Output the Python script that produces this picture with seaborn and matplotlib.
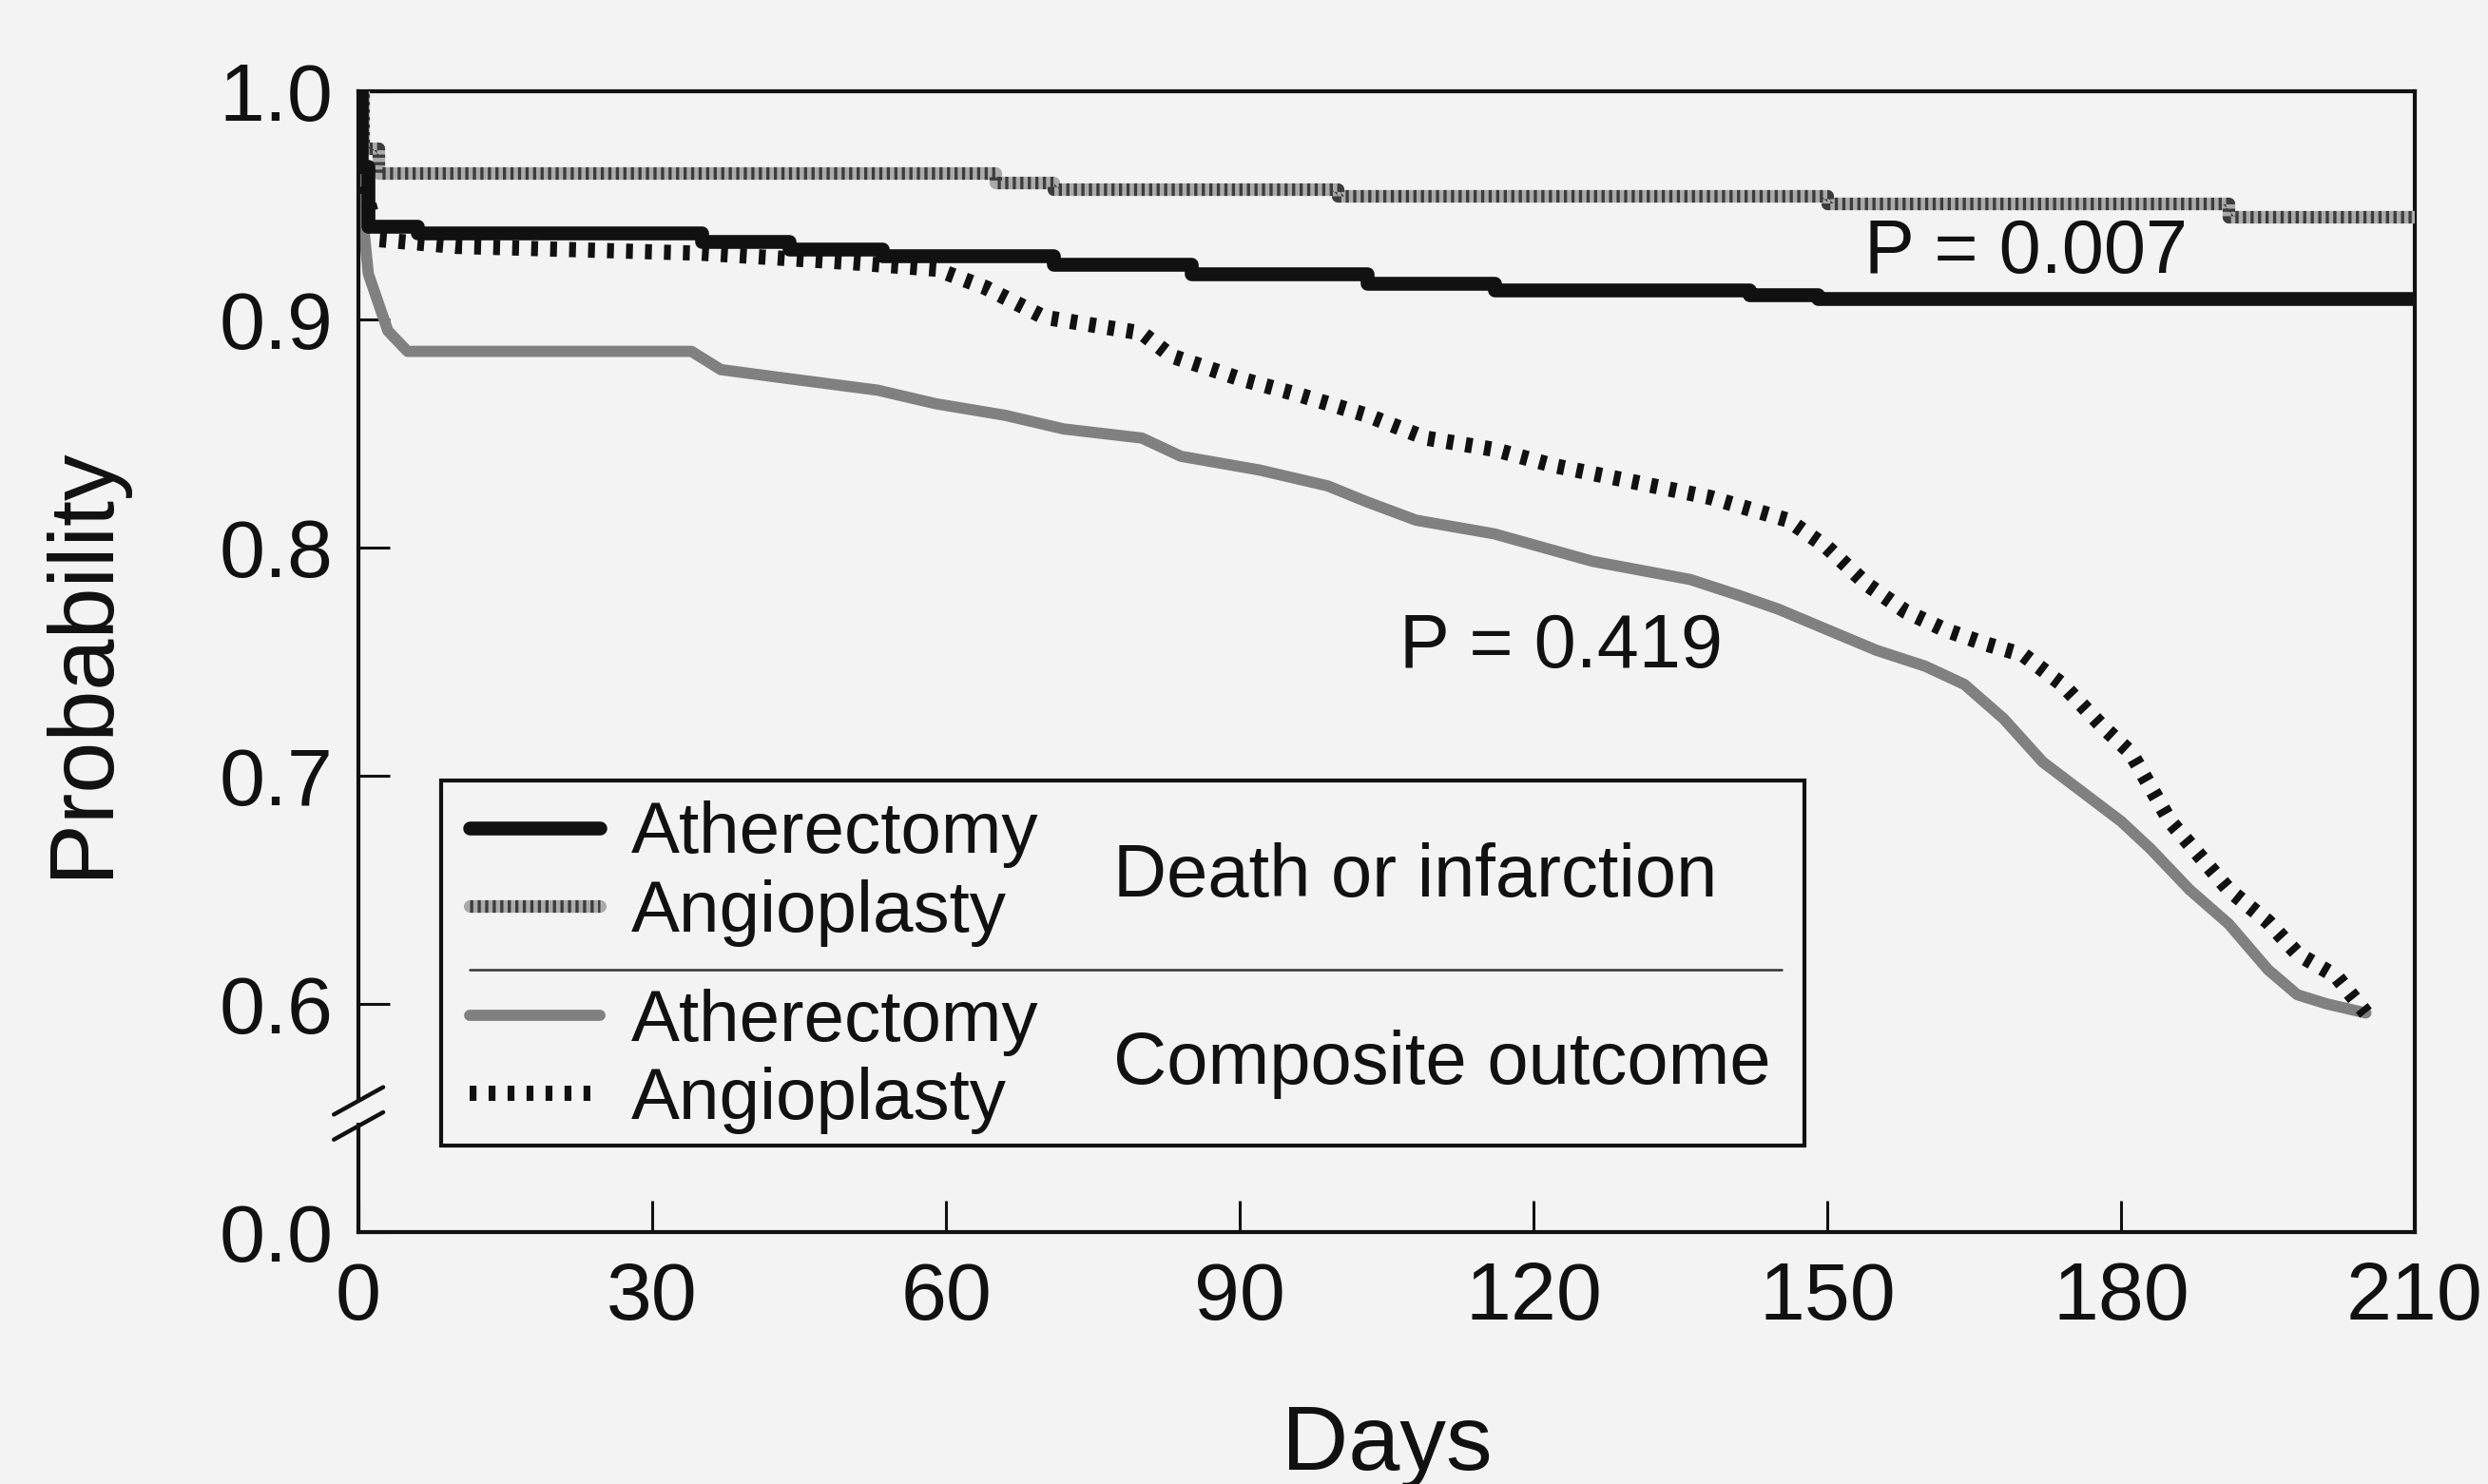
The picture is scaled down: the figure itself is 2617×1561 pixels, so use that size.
import numpy as np
import pandas as pd
import matplotlib
matplotlib.use('Agg')  # Non-interactive backend
import matplotlib.pyplot as plt
import seaborn as sns
from matplotlib.patches import Rectangle

# Death or infarction - Kaplan-Meier steps
death_ather_days = [0, 0.3, 1, 6, 35, 44, 53.5, 71, 85, 103, 116, 142, 149, 210]
death_ather_prob = [1.0, 0.967, 0.941, 0.938, 0.934, 0.931, 0.928, 0.924, 0.920, 0.916, 0.913, 0.911, 0.909, 0.909]

death_angio_days = [0, 0.5, 2, 65, 71, 100, 150, 191, 210]
death_angio_prob = [1.0, 0.975, 0.964, 0.960, 0.957, 0.954, 0.951, 0.945, 0.945]

# Composite outcome
comp_ather_days = [0, 0.3, 1, 3, 5, 34, 37, 44, 53, 59, 66, 72, 80, 84, 92, 99, 103, 108, 116, 121,
                   126, 131, 136, 141, 145, 150, 155, 160, 164, 168, 172, 176, 180, 183, 187, 191,
                   195, 198, 201, 205]
comp_ather_prob = [1.0, 0.95, 0.92, 0.895, 0.886, 0.886, 0.878, 0.874, 0.869, 0.863, 0.858, 0.852,
                   0.848, 0.840, 0.834, 0.827, 0.820, 0.812, 0.806, 0.800, 0.794, 0.790, 0.786,
                   0.779, 0.773, 0.764, 0.755, 0.748, 0.740, 0.725, 0.706, 0.693, 0.680, 0.668,
                   0.650, 0.635, 0.615, 0.604, 0.600, 0.596]

comp_angio_days = [0, 0.5, 2, 10, 35, 50, 59, 64, 70, 80, 83, 90, 96, 103, 109, 116, 122, 130, 138,
                   146, 150, 154, 158, 162, 166, 170, 174, 178, 181, 185, 188, 191, 195, 198, 202, 205]
comp_angio_prob = [1.0, 0.96, 0.935, 0.932, 0.929, 0.925, 0.922, 0.914, 0.901, 0.894, 0.884, 0.874,
                   0.867, 0.858, 0.848, 0.843, 0.836, 0.829, 0.822, 0.812, 0.800, 0.784, 0.772,
                   0.764, 0.758, 0.753, 0.740, 0.722, 0.710, 0.680, 0.665, 0.650, 0.636, 0.622,
                   0.612, 0.596]

x_ticks = [0, 30, 60, 90, 120, 150, 180, 210]
y_tick_pos = [0.5, 0.6, 0.7, 0.8, 0.9, 1.0]
y_tick_labels = ['0.0', '0.6', '0.7', '0.8', '0.9', '1.0']
group_labels = ['Atherectomy', 'Angioplasty']
p_values = [('P = 0.007', 153.8, 0.929), ('P = 0.419', 106.3, 0.756)]

sns.set_style("ticks")
plt.rcParams['font.family'] = ['Liberation Sans', 'DejaVu Sans']

bg = '#f3f3f3'
ink = '#111111'
fig = plt.figure(figsize=(26.17, 15.61), dpi=100)
fig.patch.set_facecolor(bg)
ax = fig.add_axes([0.1441, 0.1698, 0.8265, 0.7687])
ax.set_facecolor(bg)


def curve(days, prob, steps=True, **kw):
    df = pd.DataFrame({'day': days, 'p': prob})
    extra = {'drawstyle': 'steps-post'} if steps else {}
    sns.lineplot(data=df, x='day', y='p', ax=ax, estimator=None, sort=False,
                 errorbar=None, legend=False, **extra, **kw)
    return ax.get_lines()[-1]


# composite outcome first so the death curves sit on top
h_ca = curve(comp_ather_days, comp_ather_prob, steps=False, color='#808080', linewidth=8.5,
             zorder=2)
h_cg = curve(comp_angio_days, comp_angio_prob, steps=False, color=ink, linewidth=11.5,
             linestyle=(0, (0.45, 0.8)), dash_capstyle='butt', zorder=3)
h_dg_base = curve(death_angio_days, death_angio_prob, color='#aaaaaa', linewidth=9.5, zorder=4)
h_dg_hatch = curve(death_angio_days, death_angio_prob, color='#3c3c3c', linewidth=9.5,
                   linestyle=(0, (0.25, 0.35)), dash_capstyle='butt', zorder=5)
h_da = curve(death_ather_days, death_ather_prob, color=ink, linewidth=10.5, zorder=6)

ax.set_xlim(0, 210)
ax.set_ylim(0.5, 1.0)
ax.set_xticks(x_ticks)
ax.set_yticks(y_tick_pos)
ax.set_yticklabels(y_tick_labels)
ax.tick_params(axis='both', direction='in', length=24, width=2.2, colors=ink, labelsize=62)
ax.tick_params(axis='x', pad=22)
ax.tick_params(axis='y', pad=19)
for s in ax.spines.values():
    s.set_visible(True)
    s.set_linewidth(3)
    s.set_color(ink)

ax.set_xlabel('Days', fontsize=70, labelpad=50, color=ink)
ax.set_ylabel('Probability', fontsize=70, labelpad=71, color=ink)

# axis break on the left spine
ax.plot([0, 0], [0.096, 0.116], transform=ax.transAxes, color=bg, lw=7,
        clip_on=False, zorder=10, solid_capstyle='butt')
for yc in (0.093, 0.115):
    ax.plot([-0.012, 0.012], [yc - 0.012, yc + 0.012], transform=ax.transAxes,
            color=ink, lw=3.2, clip_on=False, zorder=11)

# P values
for txt, xd, yd in p_values:
    ax.text(xd, yd, txt, fontsize=57, va='center', ha='left', color=ink)

# legend block
leg_kw = dict(loc='upper left', frameon=False, fontsize=55, handlelength=1.8,
              handletextpad=0.42, labelspacing=0.15, borderpad=0, borderaxespad=0,
              labelcolor=ink)
leg1 = ax.legend(handles=[h_da, (h_dg_base, h_dg_hatch)], labels=group_labels,
                 bbox_to_anchor=(0.054, 0.378), **leg_kw)
ax.add_artist(leg1)
ax.legend(handles=[h_ca, h_cg], labels=group_labels,
          bbox_to_anchor=(0.054, 0.2135), **leg_kw)

ax.add_patch(Rectangle((0.040, 0.076), 0.663, 0.320, transform=ax.transAxes,
                       fill=False, edgecolor=ink, linewidth=3, zorder=8))
ax.plot([0.054, 0.692], [0.23, 0.23], transform=ax.transAxes, color='#333333', lw=1.8, zorder=8)
ax.text(0.367, 0.311, 'Death or infarction', transform=ax.transAxes, fontsize=56,
        va='center', ha='left', color=ink)
ax.text(0.367, 0.147, 'Composite outcome', transform=ax.transAxes, fontsize=56,
        va='center', ha='left', color=ink)

plt.savefig('out.png', dpi=100, facecolor=bg)
plt.close()
